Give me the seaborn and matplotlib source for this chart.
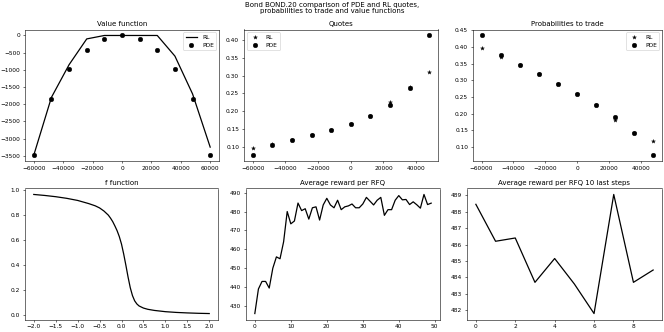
import numpy as np
import pandas as pd
import matplotlib
matplotlib.use("Agg")
import matplotlib.pyplot as plt
import seaborn as sns

# ---- data ----
inventory_vf = [-60000, -48000, -36000, -24000, -12000, 0, 12000, 24000, 36000, 48000, 60000]
vf_rl = [-3480, -1800, -850, -100, 0, 0, 0, 0, -600, -1700, -3250]
vf_pde = [-3480, -1850, -980, -410, -90, 0, -90, -410, -980, -1850, -3480]

inventory_q = [-60000, -48000, -36000, -24000, -12000, 0, 12000, 24000, 36000, 48000]
quotes_rl = [0.096, 0.108, 0.120, 0.134, 0.148, 0.165, 0.187, 0.225, 0.268, 0.310]
quotes_pde = [0.077, 0.105, 0.120, 0.133, 0.148, 0.165, 0.186, 0.217, 0.266, 0.413]

proba_rl = [0.397, 0.370, 0.345, 0.318, 0.290, 0.260, 0.225, 0.180, 0.142, 0.116]
proba_pde = [0.435, 0.377, 0.345, 0.318, 0.290, 0.260, 0.227, 0.188, 0.142, 0.075]

f_x = [-2.0, -1.75, -1.5, -1.25, -1.0, -0.75, -0.6, -0.5, -0.4, -0.3, -0.25, -0.2, -0.15,
       -0.1, -0.05, 0.0, 0.05, 0.1, 0.15, 0.2, 0.25, 0.3, 0.35, 0.4, 0.5, 0.6, 0.75,
       1.0, 1.25, 1.5, 1.75, 2.0]
f_y = [0.963, 0.955, 0.945, 0.932, 0.915, 0.89, 0.872, 0.855, 0.83, 0.797, 0.773, 0.745, 0.71,
       0.672, 0.625, 0.565, 0.485, 0.395, 0.3, 0.215, 0.152, 0.11, 0.085, 0.069, 0.052, 0.042, 0.033,
       0.023, 0.017, 0.013, 0.010, 0.008]
f_ticks = [-2.0, -1.5, -1.0, -0.5, 0.0, 0.5, 1.0, 1.5, 2.0]

reward = [426, 439, 443, 443, 439.5, 450, 456, 455, 464, 480,
          473.5, 475, 484.5, 480.5, 481.5, 476, 482, 482.5, 475.5, 483.5,
          487, 483.5, 482, 486, 481, 482.5, 483, 484, 482, 482,
          484, 487.5, 485.5, 483.5, 486, 487.5, 478, 481, 481, 486,
          488.45, 486.2, 486.4, 483.7, 485.15, 483.6, 481.8, 489.05, 483.7, 484.45]
reward_steps = list(range(len(reward)))
last_steps = list(range(10))
reward_last = reward[-10:]

# ---- figure ----
plt.rcParams["font.size"] = 8.4
plt.rcParams["axes.titlepad"] = 4.5
DPI = 50
W, H = 664, 332
LW = 1.8
fig, axes = plt.subplots(2, 3, figsize=(W / DPI, H / DPI), dpi=DPI)
fig.suptitle("Bond BOND.20 comparison of PDE and RL quotes,\nprobabilities to trade and value functions",
             y=0.995, linespacing=1.05)

ax = axes[0, 0]
sns.lineplot(x=inventory_vf, y=vf_rl, ax=ax, color="black", label="RL", linewidth=LW)
sns.scatterplot(x=inventory_vf, y=vf_pde, ax=ax, color="black", s=45, marker="o",
                edgecolor="black", label="PDE")
ax.set_title("Value function")
ax.legend(loc="upper right")

ax = axes[0, 1]
sns.scatterplot(x=inventory_q, y=quotes_rl, ax=ax, color="black", s=35, marker="*",
                edgecolor="black", label="RL")
sns.scatterplot(x=inventory_q, y=quotes_pde, ax=ax, color="black", s=45, marker="o",
                edgecolor="black", label="PDE")
ax.set_title("Quotes")
ax.legend(loc="upper left")

ax = axes[0, 2]
sns.scatterplot(x=inventory_q, y=proba_rl, ax=ax, color="black", s=35, marker="*",
                edgecolor="black", label="RL")
sns.scatterplot(x=inventory_q, y=proba_pde, ax=ax, color="black", s=45, marker="o",
                edgecolor="black", label="PDE")
ax.set_title("Probabilities to trade")
ax.legend(loc="upper right")

ax = axes[1, 0]
sns.lineplot(x=f_x, y=f_y, ax=ax, color="black", linewidth=LW)
ax.set_xticks(f_ticks)
ax.set_title("f function")

ax = axes[1, 1]
sns.lineplot(x=reward_steps, y=reward, ax=ax, color="black", linewidth=LW)
ax.set_title("Average reward per RFQ")

ax = axes[1, 2]
sns.lineplot(x=last_steps, y=reward_last, ax=ax, color="black", linewidth=LW)
ax.set_title("Average reward per RFQ 10 last steps")

for a in axes.flat:
    a.set_xlabel("")
    a.set_ylabel("")

# axes boxes in pixels: (left, right, top, bottom)
boxes = [[(25, 219, 29.5, 161), (244, 438, 29.5, 161), (473, 662, 29.5, 161)],
         [(25, 218, 188.5, 319.5), (246, 440, 188.5, 319.5), (467, 662, 188.5, 319.5)]]
for r in range(2):
    for c in range(3):
        l, rr, t, b = boxes[r][c]
        axes[r, c].set_position([l / W, (H - b) / H, (rr - l) / W, (b - t) / H])

fig.savefig("out.png", dpi=DPI)
